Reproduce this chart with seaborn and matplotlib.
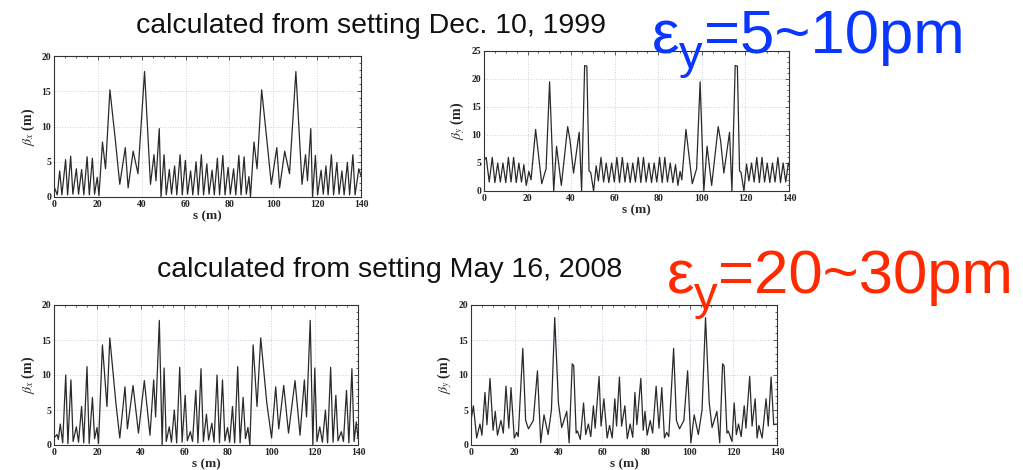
import pandas as pd
import matplotlib.pyplot as plt
import seaborn as sns
from matplotlib.ticker import MultipleLocator

# beta_x, setting Dec. 10, 1999 : (s, beta)
bx_1999 = [(0, 1.5), (1.5, 0.3), (2.6, 3.7), (3.6, 0.3), (5.3, 5.3), (6.2, 0.3), (7.6, 5.8), (8.6, 0.4),
           (10.2, 4.0), (11.2, 0.4), (12.6, 3.9), (13.6, 0.3), (15.1, 5.7), (16.1, 0.3), (17.5, 5.5),
           (18.5, 0.4), (19.7, 2.8), (20.5, 0.2), (22.1, 7.8), (23.5, 4.0), (25.5, 15.2), (28.0, 8.0),
           (30.0, 1.8), (32.5, 7.0), (33.8, 1.3), (36.1, 6.5), (38.3, 3.3), (41.3, 17.8), (44.0, 1.8),
           (45.6, 6.0), (46.5, 2.3), (48.0, 9.7), (48.8, 0.0), (50.2, 6.0), (51.2, 0.3), (52.6, 3.9),
           (53.6, 0.4), (55.0, 4.4), (56.0, 0.3), (57.5, 6.0), (58.5, 0.3), (59.9, 5.2), (60.9, 0.4),
           (62.3, 3.7), (63.3, 0.3), (64.8, 5.0), (65.8, 0.3), (67.2, 6.0), (68.2, 0.3), (69.7, 4.7),
           (70.7, 0.4), (72.1, 3.8), (73.1, 0.3), (74.5, 5.5), (75.5, 0.3), (77.0, 5.9), (78.0, 0.3),
           (79.4, 4.2), (80.4, 0.4), (81.9, 4.0), (82.9, 0.3), (84.3, 5.9), (85.3, 0.3), (86.7, 5.7),
           (87.7, 0.4), (88.9, 2.9), (89.6, 0.0), (91.2, 7.8), (92.6, 4.0), (94.7, 15.2), (97.1, 8.0),
           (99.1, 1.8), (101.6, 7.0), (102.9, 1.3), (105.2, 6.5), (107.4, 3.3), (110.3, 17.8),
           (113.1, 1.8), (114.7, 6.0), (115.6, 2.3), (117.1, 9.7), (117.9, 0.0), (119.2, 5.9),
           (120.2, 0.3), (121.8, 3.8), (122.8, 0.4), (124.0, 4.4), (125.0, 0.3), (126.5, 6.0),
           (127.5, 0.3), (129.0, 4.9), (130.0, 0.4), (131.3, 3.7), (132.3, 0.3), (133.8, 4.9),
           (134.8, 0.3), (136.3, 6.0), (137.3, 0.3), (139.0, 4.0), (140, 3.0)]

# beta_y, setting Dec. 10, 1999
by_1999 = [(0, 5.5), (1.0, 6.0), (2.4, 1.6), (3.8, 6.0), (5.0, 1.5), (6.3, 5.0), (7.5, 1.6), (8.7, 5.0),
           (10.0, 1.5), (11.2, 6.0), (12.4, 1.6), (13.6, 6.0), (14.8, 1.5), (16.0, 5.0), (17.2, 1.6),
           (18.3, 4.7), (19.4, 1.0), (20.6, 3.5), (21.6, 2.0), (23.7, 11.0), (26.5, 1.3), (28.5, 4.0),
           (30.1, 19.5), (32.0, 0.0), (33.3, 8.0), (35.5, 1.0), (38.4, 11.5), (39.5, 9.0), (41.1, 3.2),
           (43.7, 10.5), (44.8, 0.0), (46.2, 22.4), (47.2, 22.3), (48.2, 3.6), (49.0, 3.3), (50.3, 0.0),
           (51.5, 4.5), (52.5, 1.8), (53.7, 6.0), (54.9, 1.6), (56.1, 5.0), (57.3, 1.5), (58.6, 5.0),
           (59.8, 1.6), (61.0, 6.0), (62.2, 1.5), (63.5, 6.0), (64.7, 1.6), (65.9, 5.0), (67.1, 1.5),
           (68.3, 5.0), (69.5, 1.6), (70.8, 6.0), (72.0, 1.5), (73.2, 6.0), (74.4, 1.6), (75.7, 5.0),
           (76.9, 1.5), (78.1, 5.0), (79.3, 1.6), (80.6, 6.0), (81.8, 1.5), (83.0, 6.0), (84.2, 1.6),
           (85.5, 5.0), (86.7, 1.5), (87.9, 4.7), (89.0, 1.0), (90.0, 3.5), (90.8, 2.0), (92.7, 11.0),
           (95.6, 1.3), (97.6, 4.0), (99.2, 19.5), (100.9, 0.0), (102.4, 8.0), (104.5, 1.0),
           (107.5, 11.5), (108.6, 9.0), (110.1, 3.2), (112.7, 10.5), (113.8, 0.0), (115.3, 22.4),
           (116.3, 22.3), (117.3, 3.6), (118.0, 3.3), (119.3, 0.0), (120.5, 4.8), (121.6, 1.8),
           (122.8, 5.0), (124.0, 1.6), (125.2, 6.0), (126.4, 1.5), (127.6, 6.0), (128.8, 1.6),
           (130.0, 5.0), (131.2, 1.5), (132.4, 5.0), (133.6, 1.6), (134.9, 6.0), (136.1, 1.5),
           (137.3, 5.0), (138.5, 1.6), (139.7, 5.0), (140, 4.5)]

# beta_x, setting May 16, 2008
bx_2008 = [(0, 1.0), (1.4, 1.5), (2.0, 0.8), (2.9, 3.0), (4.0, 0.3), (5.4, 10.0), (6.4, 0.2), (7.8, 9.3),
           (8.8, 0.5), (10.3, 2.6), (11.3, 0.4), (12.7, 5.5), (13.7, 0.3), (15.2, 11.2), (16.2, 0.2),
           (17.7, 6.8), (18.7, 0.9), (19.8, 2.5), (20.5, 0.2), (22.3, 14.3), (24.4, 5.5), (25.7, 15.3),
           (28.5, 6.0), (30.3, 1.0), (32.7, 8.3), (33.8, 2.3), (36.4, 8.5), (38.9, 1.7), (41.6, 9.2),
           (44.2, 1.4), (45.9, 9.3), (46.8, 4.0), (48.5, 17.8), (49.8, 0.0), (50.7, 11.0), (51.7, 0.5),
           (53.1, 2.6), (54.1, 0.4), (55.4, 5.0), (56.5, 0.3), (57.9, 11.1), (59.0, 0.4), (60.4, 7.1),
           (61.4, 0.6), (62.8, 1.9), (63.8, 0.5), (65.3, 7.8), (66.3, 0.3), (67.7, 10.9), (68.8, 0.5),
           (70.2, 4.4), (71.2, 0.7), (72.7, 3.1), (73.7, 0.4), (75.1, 10.0), (76.2, 0.3), (77.6, 9.3),
           (78.7, 0.6), (79.9, 2.5), (80.9, 0.4), (82.2, 5.5), (83.2, 0.3), (84.6, 11.2), (85.7, 0.3),
           (87.1, 6.8), (88.2, 0.9), (89.3, 2.5), (90.2, 0.0), (91.7, 14.3), (93.5, 5.5), (95.2, 15.3),
           (98.0, 6.0), (100.2, 1.0), (102.1, 8.3), (103.5, 2.3), (105.8, 8.5), (108.0, 1.7),
           (111.0, 9.2), (113.3, 1.4), (115.3, 9.3), (116.3, 4.0), (118.0, 17.8), (119.2, 0.0),
           (120.1, 11.0), (121.1, 0.5), (122.4, 2.6), (123.6, 0.4), (125.0, 5.0), (126.0, 0.3),
           (127.4, 11.1), (128.5, 0.4), (129.8, 7.1), (130.8, 0.6), (132.3, 1.9), (133.3, 0.5),
           (134.7, 7.8), (135.8, 0.3), (137.2, 10.9), (138.2, 0.5), (139.2, 3.3), (140, 1.0)]

# beta_y, setting May 16, 2008
by_2008 = [(0, 3.5), (1.1, 5.6), (2.6, 1.0), (4.1, 3.0), (5.0, 1.4), (6.4, 7.5), (7.3, 2.9), (8.7, 9.5),
           (10.1, 2.1), (11.1, 4.8), (12.1, 1.4), (13.7, 3.5), (14.8, 1.7), (16.0, 8.4), (17.3, 2.4),
           (18.3, 8.2), (19.8, 1.0), (20.9, 1.8), (21.6, 1.2), (23.7, 13.8), (25.0, 3.5), (26.3, 2.3),
           (28.5, 3.5), (30.4, 10.6), (31.9, 0.3), (33.4, 4.3), (35.3, 1.5), (36.8, 5.0), (38.3, 18.2),
           (40.0, 6.0), (41.5, 2.5), (43.8, 4.8), (44.9, 0.3), (46.3, 11.6), (47.0, 11.3), (48.1, 1.7),
           (48.7, 2.0), (50.0, 0.8), (51.5, 6.0), (52.5, 1.5), (53.7, 3.0), (54.8, 1.2), (56.0, 5.6),
           (56.8, 2.4), (58.6, 9.8), (59.5, 2.7), (60.8, 6.6), (62.3, 1.0), (63.4, 2.8), (64.6, 1.0),
           (65.8, 6.6), (66.6, 2.7), (67.9, 9.7), (68.9, 2.7), (70.4, 5.6), (71.5, 0.9), (72.8, 3.0),
           (74.0, 1.1), (75.0, 7.5), (75.9, 2.9), (77.7, 9.5), (78.8, 2.1), (79.6, 4.8), (80.6, 1.4),
           (82.0, 3.5), (83.1, 1.7), (84.7, 8.4), (86.0, 2.4), (87.3, 8.2), (88.5, 1.0), (89.5, 1.8),
           (90.5, 1.2), (92.7, 13.8), (94.0, 3.5), (95.4, 2.3), (97.4, 3.5), (99.1, 10.6), (100.6, 0.3),
           (102.1, 4.3), (104.0, 1.5), (105.7, 5.0), (107.3, 18.2), (109.0, 6.0), (110.3, 2.5),
           (112.5, 4.8), (113.8, 0.3), (115.1, 11.6), (115.8, 11.3), (117.1, 1.7), (117.7, 2.0),
           (119.4, 0.5), (120.4, 6.0), (121.4, 1.5), (122.4, 3.0), (123.6, 1.2), (125.0, 5.6),
           (125.8, 2.4), (127.5, 9.8), (128.6, 2.7), (130.0, 6.6), (130.9, 1.0), (131.7, 2.8),
           (133.2, 1.0), (135.0, 6.6), (136.0, 2.7), (137.3, 9.7), (138.5, 2.9), (139.7, 3.0)]

titles = ['calculated from setting Dec. 10, 1999', 'calculated from setting May 16, 2008']

sns.set_style('white')
plt.rcParams['font.family'] = ['Liberation Sans', 'DejaVu Sans']
plt.rcParams['mathtext.fontset'] = 'stix'

W, H = 1023, 470
fig = plt.figure(figsize=(W / 100, H / 100), dpi=100)


def box(l, t, r, b):
    # pixel box -> figure fraction
    return [l / W, 1 - b / H, (r - l) / W, (b - t) / H]


panels = [
    (bx_1999, box(54, 56, 361, 197), 20, r'$\beta_x$ (m)'),
    (by_1999, box(484, 51, 789, 191), 25, r'$\beta_y$ (m)'),
    (bx_2008, box(54, 305, 358, 445), 20, r'$\beta_x$ (m)'),
    (by_2008, box(471, 305, 777, 445), 20, r'$\beta_y$ (m)'),
]

serif = ['Liberation Serif', 'DejaVu Serif']
for pts, rect, ymax, ylab in panels:
    ax = fig.add_axes(rect)
    df = pd.DataFrame(pts, columns=['s', 'beta'])
    sns.lineplot(data=df, x='s', y='beta', ax=ax, color='#2a2a2a', linewidth=0.9,
                 estimator=None, sort=False)
    ax.set_xlim(0, 140)
    ax.set_ylim(0, ymax)
    ax.xaxis.set_major_locator(MultipleLocator(20))
    ax.xaxis.set_minor_locator(MultipleLocator(5))
    ax.yaxis.set_major_locator(MultipleLocator(5))
    ax.yaxis.set_minor_locator(MultipleLocator(1))
    ax.grid(True, which='major', linestyle=':', color='#c6cede', linewidth=0.7)
    ax.tick_params(which='both', direction='in', top=True, right=True, labelsize=7, pad=2,
                   color='#444444', width=0.6)
    ax.tick_params(which='major', length=3)
    ax.tick_params(which='minor', length=1.5)
    for lab in ax.get_xticklabels() + ax.get_yticklabels():
        lab.set_family(serif)
        lab.set_fontweight('bold')
        lab.set_color('#222222')
    for sp in ax.spines.values():
        sp.set_color('#333333')
        sp.set_linewidth(0.8)
    ax.set_xlabel('s (m)', family=serif, fontweight='bold', fontsize=9.5, labelpad=1)
    ax.set_ylabel(ylab, family=serif, fontweight='bold', fontsize=10, labelpad=3)

# headings
fig.text(371 / W, 1 - 33 / H, titles[0], ha='center', va='baseline', fontsize=20.5, color='#111111')
fig.text(390 / W, 1 - 277 / H, titles[1], ha='center', va='baseline', fontsize=20.5, color='#111111')

# emittance labels
blue = '#0a37ff'
red = '#ff2a00'
fig.text(652 / W, 1 - 53 / H, 'ε', ha='left', va='baseline', fontsize=44.5, color=blue)
fig.text(679 / W, 1 - 68 / H, 'y', ha='left', va='baseline', fontsize=34, color=blue)
fig.text(704 / W, 1 - 53 / H, '=5~10pm', ha='left', va='baseline', fontsize=44.5, color=blue)

fig.text(667 / W, 1 - 293 / H, 'ε', ha='left', va='baseline', fontsize=44.5, color=red)
fig.text(694 / W, 1 - 309 / H, 'y', ha='left', va='baseline', fontsize=34, color=red)
fig.text(718 / W, 1 - 293 / H, '=20~30pm', ha='left', va='baseline', fontsize=44.5, color=red)

fig.savefig('out.png', dpi=100)
